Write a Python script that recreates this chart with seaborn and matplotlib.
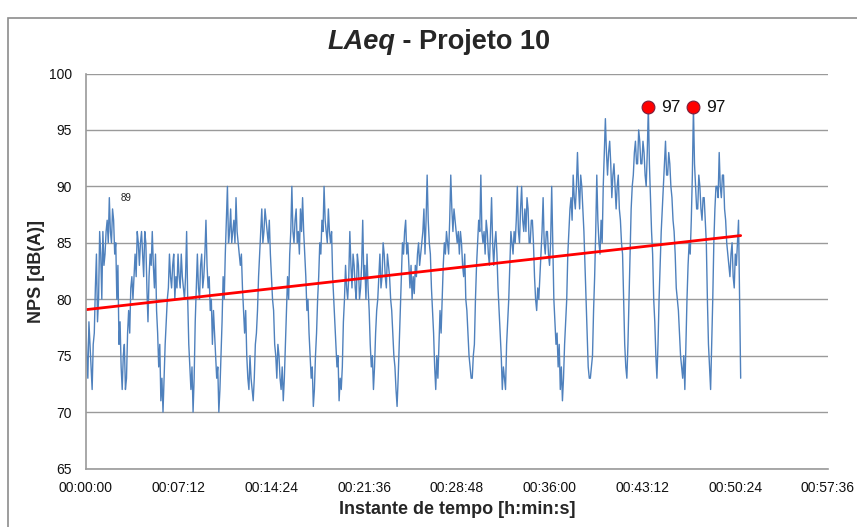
import numpy as np
import pandas as pd
import seaborn as sns
import matplotlib.pyplot as plt
from matplotlib.patches import Rectangle

# LAeq readings, one every 5 s, 10 values per row = 50 s
step_s = 5
laeq = [
    79, 75, 73, 78, 76, 74, 72, 76, 77, 81,
    84, 78, 80, 86, 84, 80, 86, 83, 84, 86,
    87, 85, 89, 86, 85, 88, 87, 84, 85, 80,
    83, 76, 78, 74, 72, 75, 76, 72, 73, 77,
    79, 77, 81, 82, 80, 82, 84, 82, 86, 85,
    83, 85, 86, 84, 82, 86, 85, 81, 78, 82,
    84, 83, 86, 83, 81, 84, 79, 77, 74, 76,
    71, 73, 70, 73, 76, 78, 80, 81, 84, 82,
    81, 83, 84, 80, 82, 81, 84, 82, 81, 84,
    82, 81, 80, 82, 86, 80, 76, 74, 72, 74,
    70, 73, 78, 81, 84, 81, 80, 83, 84, 81,
    82, 84, 87, 83, 81, 82, 79, 80, 76, 79,
    77, 75, 73, 74, 70, 72, 75, 78, 82, 80,
    84, 87, 90, 85, 86, 88, 85, 86, 87, 85,
    89, 86, 85, 84, 83, 84, 81, 79, 77, 79,
    75, 73, 72, 75, 73, 72, 71, 73, 76, 77,
    79, 82, 84, 86, 88, 85, 86, 88, 87, 86,
    85, 87, 84, 82, 80, 79, 76, 75, 73, 76,
    75, 73, 72, 74, 71, 73, 76, 79, 82, 80,
    84, 86, 90, 86, 85, 87, 88, 85, 86, 84,
    88, 86, 89, 86, 84, 82, 79, 80, 77, 75,
    73, 74, 70.5, 72, 75, 77, 80, 82, 85, 84,
    87, 86, 90, 87, 86, 85, 88, 86, 85, 86,
    82, 80, 78, 76, 74, 75, 71, 73, 72, 74,
    78, 80, 83, 81, 80, 82, 86, 83, 81, 84,
    83, 81, 80, 84, 83, 80, 81, 83, 87, 82,
    83, 80, 84, 81, 79, 76, 74, 75, 72, 74,
    77, 79, 80, 82, 84, 81, 82, 85, 84, 82,
    81, 84, 83, 82, 80, 79, 77, 75, 74, 72,
    70.5, 73, 76, 79, 82, 85, 84, 86, 87, 84,
    85, 83, 81, 83, 80, 82, 80.5, 83, 82, 84,
    85, 83, 84, 85, 86, 88, 84, 87, 91, 87,
    85, 84, 81, 79, 77, 74, 72, 75, 73, 76,
    79, 77, 80, 83, 85, 84, 86, 85, 84, 87,
    91, 88, 86, 88, 87, 86, 85, 86, 84, 86,
    85, 83, 82, 84, 80, 79, 77, 75, 74, 73,
    73, 75, 76, 80, 83, 85, 87, 86, 91, 86,
    85, 86, 84, 87, 86, 84, 83, 86, 89, 85,
    83, 85, 86, 84, 81, 79, 77, 75, 72, 74,
    73, 72, 76, 78, 80, 83, 86, 85, 84, 86,
    85, 87, 90, 86, 85, 88, 90, 87, 86, 88,
    86, 89, 88, 85, 85, 87, 87, 85, 82, 80,
    79, 81, 80, 82, 84, 86, 89, 85, 84, 86,
    86, 84, 83, 85, 90, 85, 80, 78, 76, 77,
    74, 76, 72, 74, 71, 73, 76, 78, 80, 84,
    86, 88, 89, 87, 91, 89, 88, 90, 93, 90,
    88, 91, 90, 88, 86, 83, 80, 77, 74, 73,
    73, 74, 75, 79, 82, 86, 91, 87, 85, 84,
    87, 85, 90, 93, 96, 93, 91, 93, 94, 92,
    89, 91, 92, 90, 88, 90, 91, 88, 87, 85,
    84, 80, 76, 74, 73, 76, 80, 84, 88, 90,
    91, 93, 94, 92, 92, 95, 94, 92, 92, 94,
    93, 91, 90, 93, 97, 92, 89, 86, 84, 80,
    78, 75, 73, 76, 80, 83, 86, 88, 90, 92,
    94, 91, 91, 93, 92, 90, 89, 87, 86, 84,
    81, 80, 79, 77, 75, 74, 73, 75, 72, 76,
    80, 83, 85, 84, 87, 91, 97, 92, 90, 88,
    88, 91, 90, 88, 87, 89, 89, 87, 85, 80,
    76, 74, 72, 76, 80, 85, 88, 90, 90, 89,
    93, 90, 89, 91, 91, 88, 87, 85, 84, 83,
    82, 84, 85, 82, 81, 84, 83, 85, 87, 80,
    73,
]

tick_labels = ['00:00:00', '00:07:12', '00:14:24', '00:21:36', '00:28:48',
               '00:36:00', '00:43:12', '00:50:24', '00:57:36']
tick_step_s = 432
y_ticks = [65, 70, 75, 80, 85, 90, 95, 100]

df = pd.DataFrame({'t': np.arange(len(laeq)) * step_s, 'laeq': laeq})

sns.set_style('white')
plt.rcParams['font.family'] = ['Liberation Sans', 'DejaVu Sans']

fig = plt.figure(figsize=(8.57, 5.27), dpi=100)
# outer chart border like the Excel chart area
fig.patches.append(Rectangle((8 / 857, -0.05), 1.05, 1 - 18 / 527 + 0.05,
                             transform=fig.transFigure, fill=False,
                             edgecolor='#8c8c8c', lw=1.2))

ax = fig.add_axes([0.1, 0.111, 0.866, 0.7495])

sns.lineplot(data=df, x='t', y='laeq', color='#4F81BD', lw=1, ax=ax)
# linear trend line
sns.regplot(data=df, x='t', y='laeq', scatter=False, ci=None, ax=ax,
            line_kws=dict(color='red', lw=2))

# max points
peaks = df[df['laeq'] == df['laeq'].max()]
ax.scatter(peaks['t'], peaks['laeq'], s=85, color='red', edgecolor='#7a1f3d',
           lw=0.8, zorder=5)
for tt, vv in zip(peaks['t'], peaks['laeq']):
    ax.annotate(f'{vv:.0f}', (tt, vv), xytext=(9, 0), textcoords='offset points',
                ha='left', va='center', fontsize=12.5, color='#111111')

# small label on first peak
first_peak = df.iloc[:40]['laeq'].idxmax()
ax.annotate(f"{df.loc[first_peak, 'laeq']:.0f}", (df.loc[first_peak, 't'], df.loc[first_peak, 'laeq']),
            xytext=(8, 0), textcoords='offset points', ha='left', va='center',
            fontsize=7, color='#222222')

ax.set_xlim(0, tick_step_s * (len(tick_labels) - 1))
ax.set_ylim(65, 100)
ax.set_xticks(np.arange(len(tick_labels)) * tick_step_s)
ax.set_xticklabels(tick_labels)
ax.set_yticks(y_ticks)
ax.tick_params(axis='both', length=0, labelsize=10, colors='#111111')
ax.tick_params(axis='y', pad=10)
ax.tick_params(axis='x', pad=9)

ax.yaxis.grid(True, color='#9a9a9a', lw=1)
ax.xaxis.grid(False)
for s in ['top', 'right']:
    ax.spines[s].set_visible(False)
for s in ['left', 'bottom']:
    ax.spines[s].set_color('#9a9a9a')
    ax.spines[s].set_linewidth(1.2)

ax.set_xlabel('Instante de tempo [h:min:s]', fontsize=13, fontweight='bold', labelpad=4)
ax.set_ylabel('NPS [dB(A)]', fontsize=13, fontweight='bold', labelpad=3)

# title: italic "LAeq" followed by upright text
t1 = fig.text(0.3816, 1 - 42 / 527, 'LAeq', fontsize=19.5, fontweight='bold',
              fontstyle='italic', ha='left', va='center')
ax.annotate(' - Projeto 10', xy=(1, 0), xycoords=t1, xytext=(0, 0),
            textcoords='offset points', ha='left', va='bottom',
            fontsize=19.5, fontweight='bold')

fig.savefig('out.png', dpi=100)
